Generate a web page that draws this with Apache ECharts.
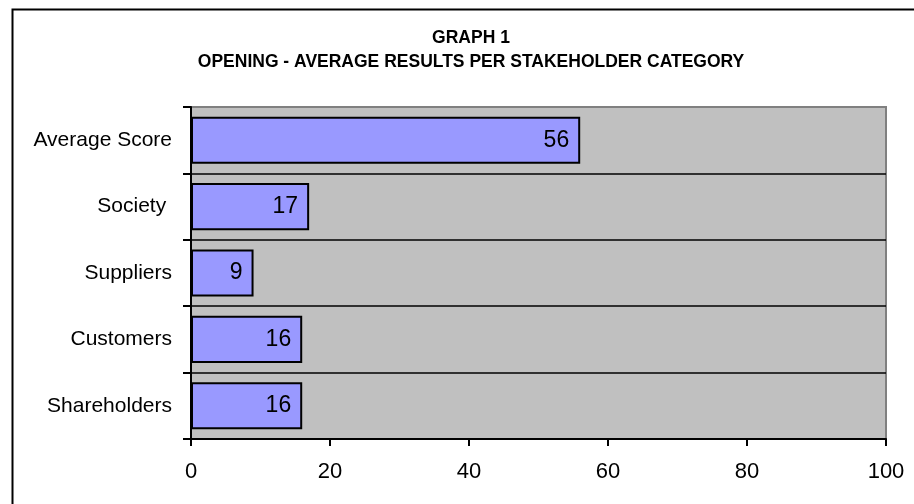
<!DOCTYPE html>
<html>
<head>
<meta charset="utf-8">
<title>Graph 1</title>
<script src="https://cdn.jsdelivr.net/npm/echarts@6/dist/echarts.min.js"></script>
<style>
  html, body { margin: 0; padding: 0; background: #ffffff; }
  #chart { width: 914px; height: 504px; }
</style>
</head>
<body>
<div id="chart"></div>
<script>
// Stakeholder categories, listed bottom to top as the axis draws them
const categories = ['Shareholders', 'Customers', 'Suppliers', 'Society ', 'Average Score'];
// Average opening result per category
const scores = [16, 16, 9, 17, 56];
// Value axis ticks
const valueTicks = [0, 20, 40, 60, 80, 100];

const titleLines = ['GRAPH 1', 'OPENING - AVERAGE RESULTS PER STAKEHOLDER CATEGORY'];

const FONT = "'Liberation Sans', Arial, sans-serif";

const chart = echarts.init(document.getElementById('chart'), null, { renderer: 'canvas' });

chart.setOption({
  backgroundColor: '#ffffff',
  animation: false,
  title: {
    text: titleLines.join('\n'),
    left: 466,
    top: 21,
    textAlign: 'center',
    textStyle: {
      fontFamily: FONT,
      fontSize: 17.5,
      fontWeight: 'bold',
      color: '#000000',
      lineHeight: 24
    }
  },
  graphic: [{
    // outer chart frame
    type: 'rect',
    left: 10,
    top: 7,
    silent: true,
    shape: { width: 1200, height: 1200 },
    style: { fill: 'none', stroke: '#000000', lineWidth: 2 }
  }],
  grid: {
    left: 191,
    right: 28,
    top: 107,
    bottom: 65,
    show: true,
    backgroundColor: '#C0C0C0',
    borderColor: '#808080',
    borderWidth: 2
  },
  xAxis: {
    type: 'value',
    min: valueTicks[0],
    max: valueTicks[valueTicks.length - 1],
    interval: valueTicks[1] - valueTicks[0],
    axisLine: { show: true, lineStyle: { color: '#000000', width: 2 } },
    axisTick: { show: true, length: 7, lineStyle: { color: '#000000', width: 2 } },
    splitLine: { show: false },
    axisLabel: {
      fontFamily: FONT,
      fontSize: 22,
      color: '#000000',
      margin: 22
    }
  },
  yAxis: {
    type: 'category',
    data: categories,
    axisLine: { show: true, lineStyle: { color: '#000000', width: 2 } },
    axisTick: { show: true, length: 8, lineStyle: { color: '#000000', width: 2 } },
    splitLine: {
      show: true,
      lineStyle: {
        color: ['#000000', '#000000', '#000000', '#000000', '#000000', '#808080'],
        width: 1.5
      }
    },
    axisLabel: {
      fontFamily: FONT,
      fontSize: 21,
      color: '#000000',
      margin: 19
    }
  },
  series: [{
    type: 'bar',
    data: scores,
    barCategoryGap: '29%',
    itemStyle: {
      color: '#9999FF',
      borderColor: '#000000',
      borderWidth: 2
    },
    label: {
      show: true,
      position: 'insideRight',
      distance: 11,
      fontFamily: FONT,
      fontSize: 23,
      color: '#000000'
    }
  }]
});
</script>
</body>
</html>
